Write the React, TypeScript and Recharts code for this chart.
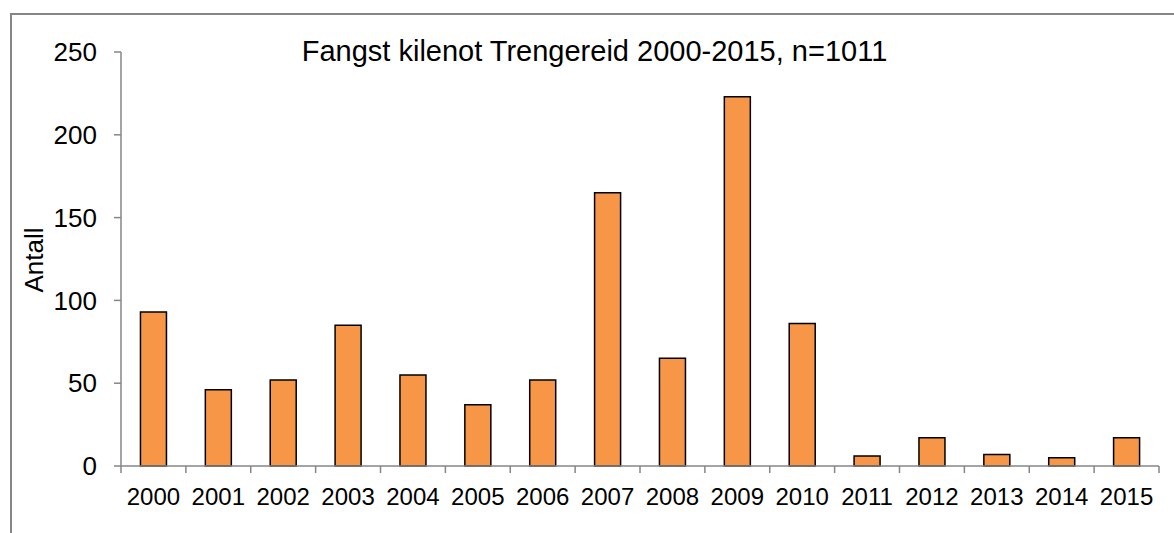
import React from "react";
import { BarChart, Bar, XAxis, YAxis } from "recharts";

const years = ["2000", "2001", "2002", "2003", "2004", "2005", "2006", "2007", "2008", "2009", "2010", "2011", "2012", "2013", "2014", "2015"];
const counts = [93, 46, 52, 85, 55, 37, 52, 165, 65, 223, 86, 6, 17, 7, 5, 17];
const yTicks = [0, 50, 100, 150, 200, 250];

const data = years.map((year, i) => ({ year, antall: counts[i] }));

const W = 1174;
const H = 533;
const X_AXIS_H = 67;
const M = { top: 52, right: 15, bottom: 0, left: 0 };
const Y_AXIS_W = 121;
const AXIS_GRAY = "#868686";
const FONT = "'Liberation Sans', Arial, sans-serif";

const plotW = W - M.left - Y_AXIS_W - M.right;
const band = plotW / years.length;
const axisY = H - X_AXIS_H;

function YearTick(props: any) {
  const { x, payload, index } = props;
  const last = index === years.length - 1;
  return (
    <g>
      <line x1={x - band / 2} x2={x - band / 2} y1={axisY} y2={axisY + 7} stroke={AXIS_GRAY} strokeWidth={1.5} />
      {last && <line x1={x + band / 2} x2={x + band / 2} y1={axisY} y2={axisY + 7} stroke={AXIS_GRAY} strokeWidth={1.5} />}
      <text x={x} y={axisY + 39} textAnchor="middle" fontSize={24} fill="#000" fontFamily={FONT}>
        {payload.value}
      </text>
    </g>
  );
}

export default function App() {
  return (
    <div style={{ position: "absolute", left: 0, top: 0, width: W, height: H, background: "#fff", overflow: "hidden", fontFamily: FONT }}>
      <div
        style={{
          position: "absolute",
          left: 10,
          top: 13,
          width: W,
          height: H,
          borderTop: `2px solid ${AXIS_GRAY}`,
          borderLeft: `2px solid ${AXIS_GRAY}`,
        }}
      />
      <div style={{ position: "absolute", left: 0, width: 1189, top: 37, textAlign: "center", fontSize: 29, lineHeight: 1, color: "#000", whiteSpace: "nowrap" }}>
        Fangst kilenot Trengereid 2000-2015, n=1011
      </div>
      <BarChart width={W} height={H} data={data} margin={M} barCategoryGap="30%" style={{ position: "absolute", left: 0, top: 0 }}>
        <XAxis
          dataKey="year"
          height={X_AXIS_H}
          axisLine={{ stroke: AXIS_GRAY, strokeWidth: 1.5 }}
          tickLine={false}
          tick={<YearTick />}
          interval={0}
        />
        <YAxis
          width={Y_AXIS_W}
          domain={[0, 250]}
          ticks={yTicks}
          axisLine={{ stroke: AXIS_GRAY, strokeWidth: 1.5 }}
          tickLine={{ stroke: AXIS_GRAY, strokeWidth: 1.5 }}
          tickSize={7}
          tickMargin={17}
          tick={{ fontSize: 26, fill: "#000", fontFamily: FONT }}
          label={{
            content: () => (
              <text x={43} y={260} transform="rotate(-90 43 260)" textAnchor="middle" fontSize={26} fill="#000" fontFamily={FONT}>
                Antall
              </text>
            ),
          }}
        />
        <Bar dataKey="antall" fill="#F79646" stroke="#000" strokeWidth={1.5} isAnimationActive={false} />
      </BarChart>
    </div>
  );
}
